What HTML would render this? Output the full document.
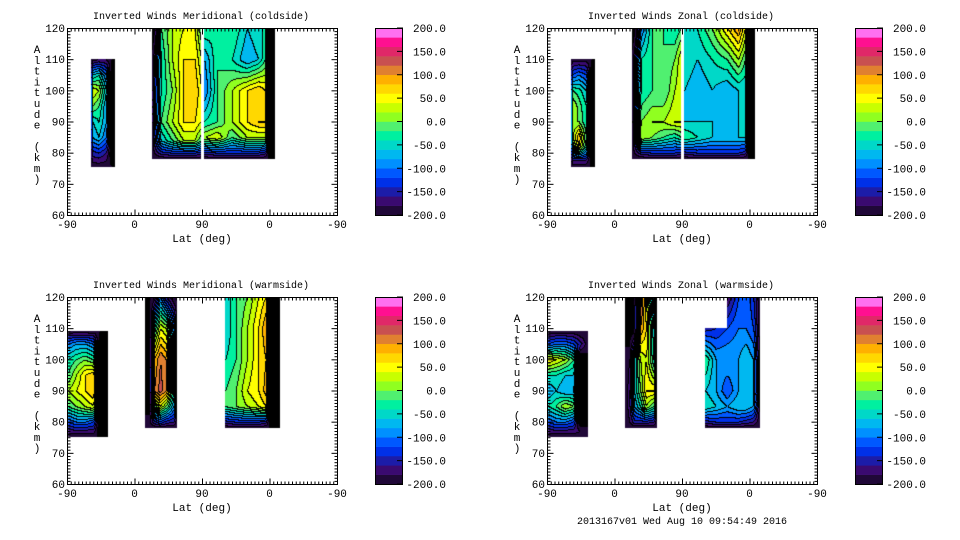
<!DOCTYPE html>
<html><head><meta charset="utf-8">
<style>
body{margin:0;background:#fff;width:960px;height:540px;overflow:hidden;position:relative;font-family:"Liberation Mono",monospace}
canvas{position:absolute}
svg{position:absolute;left:0;top:0}
</style></head>
<body>
<svg id="ov" width="960" height="540"></svg>
<script>
// ---- data ----
const colorBands=["#200838","#3a0a70","#1c1ca8","#0030e8","#0058ff","#0090ff","#00b8f0","#00d8c8","#00f0a0","#50f070","#90ff20","#c8ff00","#ffff00","#ffd800","#ffb000","#e08030","#c85050","#e02868","#ff1090","#ff70f0"];
const cbTicks=[-200,-150,-100,-50,0,50,100,150,200];
const xTickPos=[0,90,180,270,360];
const xTickLabels=["-90","0","90","0","-90"];
const yTicks=[60,70,80,90,100,110,120];
const titles=["Inverted Winds Meridional (coldside)","Inverted Winds Zonal (coldside)","Inverted Winds Meridional (warmside)","Inverted Winds Zonal (warmside)"];
const N=NaN;
const K=-230;
const panelTL=[
 {lats:[32,34,42,52,60,64],alts:[110,105,100,95,90,85,80,75.5],v:[
 [-200,-190,-180,-180,-200,-200],[-160,-60,-40,-100,K,K],[-140,40,20,-60,K,K],[-140,0,-20,-80,K,K],[-140,-60,-40,-80,K,K],[-150,-80,-60,-100,K,K],[-180,-150,-140,-160,K,K],[-200,-195,-195,-195,-200,-200]]},
 {lats:[113,116,125,140,155,170,179],alts:[120,110,100,90,84,80,78],v:[
 [K,K,-20,20,40,40,-20],[-200,-160,-40,20,60,60,20],[-200,-140,-40,0,60,80,40],[-200,-140,-20,20,60,60,40],[-200,-150,-60,-20,20,20,-20],[-200,-180,-150,-140,-140,-140,-150],[-200,-200,-200,-200,-200,-200,-200]]},
 {lats:[183,200,220,240,255,264,270,277],alts:[120,110,100,90,85,80,78],v:[
 [-20,-40,-20,-60,-40,-40,K,-200],[-80,-20,-40,-80,-60,-20,K,-200],[-100,-20,20,60,80,60,K,-200],[-40,-20,20,60,80,80,K,-200],[20,40,-20,20,20,20,K,-200],[-150,-140,-140,-140,-140,-150,K,-200],[-200,-200,-200,-200,-200,-200,-200,-200]]}
];
const panelTR=[
 {lats:[32,34,42,52,60,64],alts:[110,105,100,95,90,85,82,78,75.5],v:[
 [-200,-190,-190,-190,-200,-200],[-150,-120,-100,-120,K,K],[-100,-20,-30,-60,K,K],[-100,20,-10,-40,K,K],[-100,0,0,-40,K,K],[-100,20,80,-20,K,K],[-120,-20,60,-40,K,K],[-180,-150,-150,-150,K,K],[-200,-200,-200,-200,-200,-200]]},
 {lats:[113,116,125,140,155,170,179],alts:[120,110,100,90,85,80,78],v:[
 [K,K,-100,-20,-20,-40,-20],[-200,-160,-40,-20,-20,0,40],[-200,-160,-40,-20,-20,20,40],[-200,-140,0,20,20,40,40],[-200,-150,20,0,-20,-40,-20],[-200,-180,-150,-140,-140,-140,-150],[-200,-200,-200,-200,-200,-200,-200]]},
 {lats:[183,200,220,240,255,264,270,277],alts:[120,110,100,90,85,80,78],v:[
 [-40,-40,0,60,100,40,K,-200],[-40,-60,-40,-20,20,-20,K,-200],[-60,-80,-60,-80,-60,-60,K,-200],[-60,-60,-60,-80,-60,-60,K,-200],[-20,-40,-60,-60,-60,-60,K,-200],[-150,-140,-140,-140,-140,-150,K,-200],[-200,-200,-200,-200,-200,-200,-200,-200]]}
];
const panelBL=[
 {lats:[1,12,24,35,44,55],alts:[109,105,100,95,90,85,80,77,75],v:[
 [-190,-190,-190,-190,-200,-200],[-100,-80,-80,-100,K,-200],[-40,-20,0,-20,K,-200],[-20,20,60,80,K,-200],[20,40,60,80,K,-200],[-20,0,20,40,K,-200],[-120,-100,-100,-120,K,-200],[-170,-170,-170,-170,K,-200],[-200,-200,-200,-200,-200,-200]]},
 {lats:[104,110,116,124,132,142,147],alts:[120,110,100,90,85,80,78],v:[
 [-200,-200,-200,-100,-160,-200,-200],[-200,K,-40,40,20,-100,-200],[-200,K,80,120,100,-60,-200],[-200,K,100,130,100,-40,-200],[-200,K,-20,40,0,-80,-200],[-200,-180,-150,-120,-150,-160,-200],[-200,-200,-200,-200,-200,-200,-200]]},
 {lats:[211,225,240,255,265,271,280,284],alts:[120,110,100,90,85,80,78],v:[
 [-60,-20,0,40,60,K,K,-200],[-60,-20,20,60,100,K,K,-200],[-40,-20,20,60,80,K,K,-200],[-20,0,40,60,90,K,K,-200],[-20,0,20,40,60,K,K,-200],[-150,-140,-140,-140,-150,K,K,-200],[-200,-200,-200,-200,-200,-200,-200,-200]]}
];
const panelBR=[
 {lats:[1,12,24,35,44,55],alts:[109,105,100,95,90,85,80,77,75],v:[
 [-190,-190,-190,-190,-200,-200],[-120,-100,-100,-120,-150,-200],[60,40,20,-20,K,-200],[-40,-40,-60,-60,K,-200],[-80,-60,-80,-80,K,-200],[-40,-20,20,0,K,-200],[-120,-100,-100,-120,K,-200],[-170,-170,-170,-170,-180,-200],[-200,-200,-200,-200,-200,-200]]},
 {lats:[104,110,116,124,132,142,147],alts:[120,110,100,90,85,80,78],v:[
 [-200,K,K,140,40,-100,-200],[-200,K,K,100,60,-60,-200],[-200,-180,-60,20,40,-40,-200],[-200,-160,-60,0,60,60,-200],[-200,-160,-80,-40,20,-20,-200],[-200,-180,-150,-150,-150,-160,-200],[-200,-200,-200,-200,-200,-200,-200]]},
 {lats:[211,225,240,255,265,275,284],alts:[120,110,100,90,85,80,78],v:[
 [N,N,-180,-120,-100,-140,-200],[-150,-140,-120,-100,-100,-120,-200],[-20,-80,-80,-80,-60,-80,-200],[-60,-80,-120,-80,-60,-80,-200],[-40,-60,-80,-60,-60,-80,-200],[-150,-140,-140,-140,-150,-160,-200],[-200,-200,-200,-200,-200,-200,-200]]}
];
const panelData=[panelTL,panelTR,panelBL,panelBR];
// ---- layout ----
const layout=[[67,28],[547,28],[67,297],[547,297]];
const PW=270,PH=187;
const NS="http://www.w3.org/2000/svg";
const ov=document.getElementById('ov');
const xS=t=>t*PW/360;
const yS=a=>(120-a)*PH/60;
function mk(tag,attrs,parent,txt){const e=document.createElementNS(NS,tag);for(const k in attrs)e.setAttribute(k,attrs[k]);if(txt!==undefined)e.textContent=txt;(parent||ov).appendChild(e);return e;}
function hex(c){return [parseInt(c.substr(1,2),16),parseInt(c.substr(3,2),16),parseInt(c.substr(5,2),16)];}
const rgb=colorBands.map(hex);
function sample(b,t,a){
  const L=b.lats,A=b.alts;
  if(t<L[0]||t>L[L.length-1]||a>A[0]||a<A[A.length-1])return undefined;
  let i=0;while(i<L.length-2&&t>L[i+1])i++;
  let j=0;while(j<A.length-2&&a<A[j+1])j++;
  const fx=(t-L[i])/(L[i+1]-L[i]),fy=(A[j]-a)/(A[j]-A[j+1]);
  const v00=b.v[j][i],v10=b.v[j][i+1],v01=b.v[j+1][i],v11=b.v[j+1][i+1];
  if(isNaN(v00+v10+v01+v11))return undefined;
  return v00*(1-fx)*(1-fy)+v10*fx*(1-fy)+v01*(1-fx)*fy+v11*fx*fy;
}
panelData.forEach((blobs,p)=>{
  const [ox,oy]=layout[p];
  const cv=document.createElement('canvas');
  cv.width=PW;cv.height=PH;cv.style.left=ox+'px';cv.style.top=oy+'px';
  
  
  document.body.insertBefore(cv,ov);
  const ctx=cv.getContext('2d');const img=ctx.createImageData(PW,PH);
  const band=new Int16Array(PW*PH).fill(-100);
  for(let y=0;y<PH;y++)for(let x=0;x<PW;x++){
    const t=(x+0.5)*360/PW,a=120-(y+0.5)*60/PH;
    let v;for(const b of blobs){const s=sample(b,t,a);if(s!==undefined){v=s;break;}}
    if(v===undefined)continue;
    band[y*PW+x]=v<-200?-1:Math.min(19,Math.floor((v+200)/20));
  }
  for(let y=0;y<PH;y++)for(let x=0;x<PW;x++){
    const k=y*PW+x,bd=band[k],o=k*4;
    let c=[255,255,255];
    if(bd===-1)c=[0,0,0];else if(bd>=0){c=rgb[bd];
      const l=x>0?band[k-1]:-100,u=y>0?band[k-PW]:-100;
      if((l>=0&&l!==bd)||(u>=0&&u!==bd))c=[0,0,0];}
    img.data[o]=c[0];img.data[o+1]=c[1];img.data[o+2]=c[2];img.data[o+3]=255;
  }
  ctx.putImageData(img,0,0);
  // axes
  const g=mk('g',{});
  mk('rect',{x:ox+0.5,y:oy+0.5,width:PW,height:PH,fill:'none',stroke:'#000','stroke-width':1},g);
  for(let d=0;d<=360;d+=5){const X=ox+0.5+xS(d),len=d%90===0?6:3;
    mk('line',{x1:X,x2:X,y1:oy+PH+0.5,y2:oy+PH+0.5-len,stroke:'#000'},g);
    mk('line',{x1:X,x2:X,y1:oy+0.5,y2:oy+0.5+len,stroke:'#000'},g);}
  for(let a=60;a<=120;a+=1){const Y=oy+0.5+yS(a),len=a%10===0?6:3;
    mk('line',{x1:ox+0.5,x2:ox+0.5+len,y1:Y,y2:Y,stroke:'#000'},g);
    mk('line',{x1:ox+PW+0.5,x2:ox+PW+0.5-len,y1:Y,y2:Y,stroke:'#000'},g);}
  xTickPos.forEach((t,i)=>{const e=mk('text',{x:ox+xS(t),y:oy+PH+13,'font-size':11,'text-anchor':'middle','font-family':'Liberation Mono, monospace'},g,xTickLabels[i]);
    });
  yTicks.forEach(a=>{const e=mk('text',{x:ox-2,y:oy+yS(a)+4,'font-size':11,'text-anchor':'end','font-family':'Liberation Mono, monospace'},g,String(a));
    });
  const xt=mk('text',{x:ox+PW/2,y:oy+PH+27,'font-size':11,'text-anchor':'middle','font-family':'Liberation Mono, monospace'},g,'Lat (deg)');
  
  const yl="Altitude (km)";
  const yg=mk('text',{'font-size':11,'font-family':'Liberation Mono, monospace','text-anchor':'middle'},g);
  
  for(let i=0;i<yl.length;i++){mk('tspan',{x:ox-30,y:oy+25+i*10.8},yg,yl[i]);}
  const tt=mk('text',{x:ox+PW/2-1,y:oy-9,'font-size':10,'text-anchor':'middle','font-family':'Liberation Mono, monospace'},g,titles[p]);
  
  // colorbar
  const cb=mk('g',{},g);
  const cx=ox+308,bw=28,bh=PH/colorBands.length;
  colorBands.forEach((c,i)=>{const r=mk('rect',{x:cx,y:oy+PH-(i+1)*bh,width:bw,height:bh+0.3,fill:c},cb);
    });
  mk('rect',{x:cx+0.5,y:oy+0.5,width:bw-1,height:PH,fill:'none',stroke:'#000'},cb);
  cbTicks.forEach(v=>{const Y=oy+PH-(v+200)/400*PH;
    mk('line',{x1:cx+bw-6,x2:cx+bw,y1:Y,y2:Y,stroke:'#000'},cb);
    const e=mk('text',{x:cx+bw+43,y:Y+4,'font-size':11,'text-anchor':'end','font-family':'Liberation Mono, monospace'},cb,v.toFixed(1));
    });
});
const ft=mk('text',{x:682,y:524,'font-size':10,'text-anchor':'middle','font-family':'Liberation Mono, monospace'},ov,'2013167v01 Wed Aug 10 09:54:49 2016');

</script>
</body></html>
